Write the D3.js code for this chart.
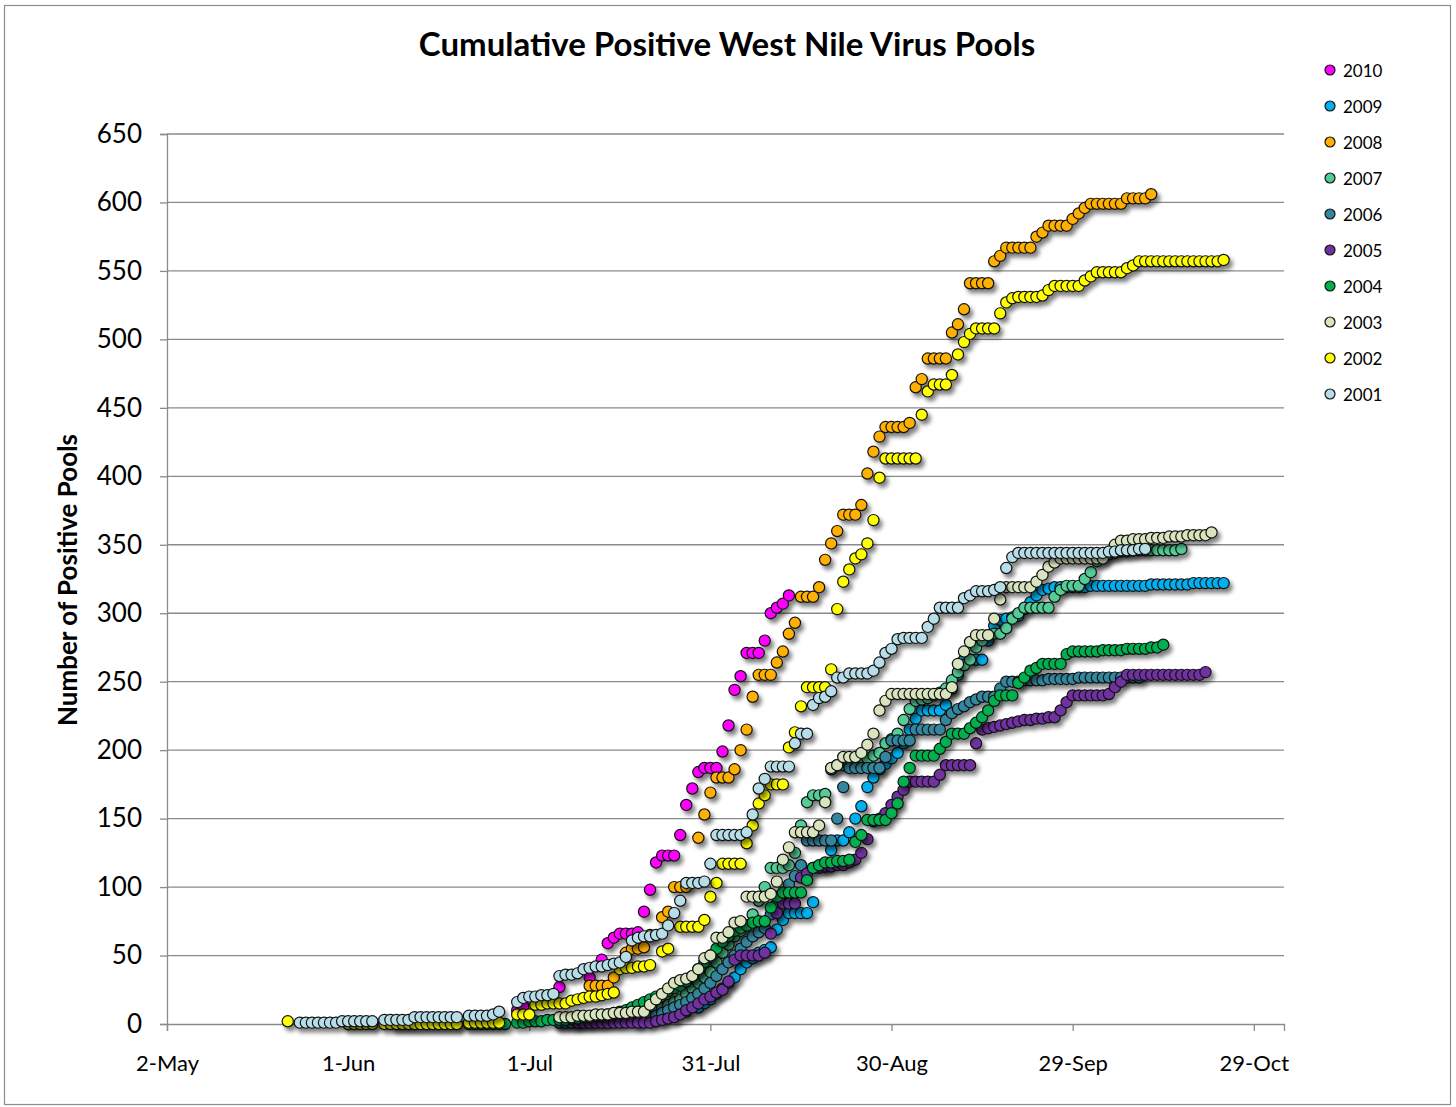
<!DOCTYPE html>
<html>
<head>
<meta charset="utf-8">
<script src="https://cdn.jsdelivr.net/npm/d3@7"></script>
<style>
  body { margin: 0; background: #fff; }
  svg { display: block; }
  text { font-family: Lato, "Open Sans", "DejaVu Sans", sans-serif; fill: #000; }
</style>
</head>
<body>
<svg id="chart" width="1456" height="1107"></svg>
<script>
// Cumulative positive pools per day. Day 0 = 2 May; each series is a start day
// followed by one count per day (null where no count was reported).
const start2010 = 58;
const pools2010 = [10,13,null,null,null,null,null,27,null,null,null,null,34,null,47,59,63,66,66,66,67,82,98,118,123,123,123,138,160,172,184,187,187,187,199,218,244,254,271,271,271,280,300,304,307,313];

const start2009 = 78;
const pools2009 = [2,null,3,null,4,null,6,null,9,null,12,15,18,22,26,30,34,40,45,48,52,54,56,69,76,81,81,81,81,89,null,115,127,134,134,140,150,159,173,180,186,190,194,198,205,215,223,229,229,229,229,233,245,255,266,266,266,266,280,291,295,296,297,298,303,308,313,317,318,319,319,319,319,319,319,320,320,320,320,320,320,320,320,320,320,321,321,321,321,321,321,321,322,322,322,322,322,322];

const start2008 = 70;
const pools2008 = [28,28,28,28,34,null,52,55,55,56,65,null,78,82,100,100,100,null,136,153,169,180,180,180,186,200,215,239,255,255,255,264,272,285,293,312,312,312,319,339,351,360,372,372,372,379,402,418,429,436,436,436,436,439,465,471,486,486,486,486,505,511,522,541,541,541,541,557,561,567,567,567,567,567,575,578,583,583,583,583,588,592,596,599,599,599,599,599,599,603,603,603,603,606];

const start2007 = 65;
const pools2007 = [1,1,1,2,2,2,3,3,3,4,4,5,6,7,8,9,10,12,14,16,18,22,26,30,34,38,45,52,58,64,68,72,80,90,100,114,114,114,116,125,145,162,167,167,168,186,189,189,189,190,192,194,196,198,205,208,212,222,230,236,237,238,240,242,245,251,257,262,266,275,280,284,285,285,289,296,300,304,304,304,304,304,312,317,320,320,320,325,330,338,341,343,344,345,345,346,346,346,346,346,346,346,346,347];

const start2006 = 65;
const pools2006 = [1,1,1,1,2,2,2,2,3,3,3,4,4,4,5,5,6,8,10,12,14,16,19,22,26,30,35,40,45,50,55,60,64,67,70,80,88,95,102,108,116,134,134,134,134,134,150,173,187,187,187,187,187,187,195,207,207,207,207,215,215,215,215,215,222,227,230,232,235,237,239,239,239,245,250,250,250,251,251,251,251,252,252,252,252,252,253,253,253,253,253,253,253,253,253,253,253];

const start2005 = 68;
const pools2005 = [1,1,1,1,1,1,1,1,1,1,1,1,1,2,3,4,5,7,10,12,15,18,20,23,25,31,47,50,50,50,50,52,66,81,88,88,88,107,110,114,114,115,115,116,116,118,120,125,135,148,150,154,160,166,171,177,177,177,177,177,182,189,189,189,189,189,205,215,216,217,218,219,220,221,222,222,223,223,224,224,229,235,240,240,240,240,240,240,241,246,250,255,255,255,255,255,255,255,255,255,255,255,255,255,257];

const start2004 = 38;
const pools2004 = [0,0,0,0,0,0,0,0,0,0,0,null,0,0,0,0,0,0,0,null,1,1,2,2,2,3,3,3,3,4,4,5,5,6,6,7,8,9,10,12,14,16,18,20,22,24,26,28,31,35,40,45,50,55,60,64,68,70,72,74,75,75,85,93,96,96,96,96,105,114,116,118,118,119,119,120,133,138,149,149,149,149,154,161,177,187,196,196,196,196,201,206,212,212,212,216,220,224,229,236,240,240,240,249,253,258,260,263,263,263,263,270,272,272,272,272,272,273,273,273,273,274,274,274,274,275,275,277];

const start2003 = 65;
const pools2003 = [5,5,5,6,6,6,7,7,7,8,8,8,9,9,9,14,18,22,26,30,32,33,35,40,48,50,63,63,67,74,75,93,93,93,93,95,104,120,129,140,140,140,140,145,162,187,189,195,195,195,198,204,212,229,236,241,241,241,241,241,241,241,241,241,241,246,263,272,279,284,284,284,296,310,319,319,319,319,319,323,328,334,337,340,340,340,340,340,340,340,340,345,350,353,353,354,354,354,355,355,355,356,356,356,357,357,357,357,359];

const start2002 = 20;
const pools2002 = [2,null,null,null,null,null,null,null,null,null,0,0,0,0,0,null,0,0,0,0,0,0,0,0,0,0,0,0,0,null,1,1,1,1,1,1,null,null,7,7,7,14,14,15,15,15,15,17,18,19,20,20,21,22,23,40,41,41,42,42,43,null,53,55,null,71,71,71,71,76,93,103,117,117,117,117,132,145,161,167,175,175,175,202,213,232,246,246,246,246,259,303,323,332,340,343,351,368,399,413,413,413,413,413,413,445,462,467,467,467,474,489,498,504,508,508,508,508,519,527,530,531,531,531,531,532,536,539,539,539,539,539,543,546,549,549,549,549,549,552,554,557,557,557,557,557,557,557,557,557,557,557,557,557,557,558];

const start2001 = 22;
const pools2001 = [1,1,1,1,1,1,1,2,2,2,2,2,2,null,3,3,3,3,3,5,5,5,5,5,5,5,5,null,6,6,6,6,7,9,null,null,16,19,20,20,21,21,22,35,36,36,37,40,41,42,42,43,44,45,49,61,63,64,64,65,66,72,81,90,103,103,103,104,117,138,138,138,138,138,140,153,172,179,188,188,188,188,205,212,212,233,238,239,243,253,253,256,256,256,256,258,264,271,274,281,282,282,282,282,290,296,304,304,304,304,311,313,316,316,316,317,319,333,341,344,344,344,344,344,344,344,344,344,344,344,344,344,344,344,345,345,346,346,346,347,347];

// Series are listed in legend order; they are drawn in this order too, so 2001 sits on top.
const years  = ["2010","2009","2008","2007","2006","2005","2004","2003","2002","2001"];
const starts = [start2010,start2009,start2008,start2007,start2006,start2005,start2004,start2003,start2002,start2001];
const counts = [pools2010,pools2009,pools2008,pools2007,pools2006,pools2005,pools2004,pools2003,pools2002,pools2001];
const colors = ["#FF00FF","#00B0F0","#FFB000","#52CC96","#33869D","#7030A0","#00B050","#D8E4BD","#FFFF00","#B7DEE8"];

const xTickDays   = [0,30,60,90,120,150,180];
const xTickLabels = ["2-May","1-Jun","1-Jul","31-Jul","30-Aug","29-Sep","29-Oct"];
const yTicks = d3.range(0, 651, 50);

const svg = d3.select("#chart");
const W = 1456, H = 1107;
const plot = { left: 167, right: 1284, top: 134, bottom: 1024 };

const x = d3.scaleLinear().domain([0, 185]).range([plot.left, plot.right]);
const y = d3.scaleLinear().domain([0, 650]).range([plot.bottom, plot.top]);

// Drop shadow under the markers
const defs = svg.append("defs");
const f = defs.append("filter").attr("id", "shadow")
  .attr("x", "-5%").attr("y", "-5%").attr("width", "115%").attr("height", "115%");
f.append("feGaussianBlur").attr("in", "SourceAlpha").attr("stdDeviation", 2.2).attr("result", "b");
f.append("feOffset").attr("in", "b").attr("dx", 3).attr("dy", 3.5).attr("result", "o");
f.append("feComponentTransfer").attr("in", "o").attr("result", "s")
  .append("feFuncA").attr("type", "linear").attr("slope", 0.5);
const m = f.append("feMerge");
m.append("feMergeNode").attr("in", "s");
m.append("feMergeNode").attr("in", "SourceGraphic");

// Chart area frame
svg.append("rect").attr("x", 0).attr("y", 0).attr("width", W).attr("height", H).attr("fill", "#fff");
svg.append("rect").attr("x", 4.5).attr("y", 5.5).attr("width", 1446).attr("height", 1099)
  .attr("fill", "none").attr("stroke", "#8c8c8c").attr("stroke-width", 1.2);

// Title
svg.append("text").attr("x", 727).attr("y", 56).attr("text-anchor", "middle")
  .style("font-size", "33px").style("font-weight", "bold")
  .text("Cumulative Positive West Nile Virus Pools");

// Horizontal gridlines
svg.append("g").selectAll("line").data(yTicks.filter(d => d > 0)).join("line")
  .attr("x1", plot.left).attr("x2", plot.right)
  .attr("y1", d => y(d)).attr("y2", d => y(d))
  .attr("stroke", "#8a8a8a").attr("stroke-width", 1.3);

// Y axis
const yAxis = svg.append("g").attr("transform", `translate(${plot.left},0)`)
  .call(d3.axisLeft(y).tickValues(yTicks).tickSize(7).tickPadding(18));
yAxis.select(".domain").attr("stroke", "#8a8a8a").attr("stroke-width", 1.3);
yAxis.selectAll(".tick line").attr("stroke", "#8a8a8a").attr("stroke-width", 1.3);
yAxis.selectAll("text").style("font-size", "26px").attr("font-family", null);

// X axis
const xAxis = svg.append("g").attr("transform", `translate(0,${plot.bottom})`)
  .call(d3.axisBottom(x).tickValues(xTickDays).tickFormat((d, i) => xTickLabels[i]).tickSize(7).tickPadding(24));
xAxis.select(".domain").attr("stroke", "#8a8a8a").attr("stroke-width", 1.3);
xAxis.selectAll(".tick line").attr("stroke", "#8a8a8a").attr("stroke-width", 1.3);
xAxis.selectAll("text").style("font-size", "22px").attr("font-family", null);

// Y axis title
svg.append("text").attr("transform", "translate(77,580) rotate(-90)")
  .attr("text-anchor", "middle").style("font-size", "26px").style("font-weight", "bold")
  .text("Number of Positive Pools");

// Markers
years.forEach((yr, i) => {
  const pts = counts[i].map((v, k) => ({ day: starts[i] + k, v })).filter(p => p.v !== null);
  svg.append("g").attr("filter", "url(#shadow)")
    .selectAll("circle").data(pts).join("circle")
    .attr("cx", d => x(d.day)).attr("cy", d => y(d.v)).attr("r", 5.6)
    .attr("fill", colors[i]).attr("stroke", "#111").attr("stroke-width", 1.2);
});

// Legend
const lg = svg.append("g").attr("transform", "translate(1330,70)");
years.forEach((yr, i) => {
  const row = lg.append("g").attr("transform", `translate(0,${i * 36})`);
  row.append("circle").attr("r", 5).attr("fill", colors[i]).attr("stroke", "#111").attr("stroke-width", 1.2);
  row.append("text").attr("x", 13).attr("y", 6.5).style("font-size", "17px").text(yr);
});
</script>
</body>
</html>
